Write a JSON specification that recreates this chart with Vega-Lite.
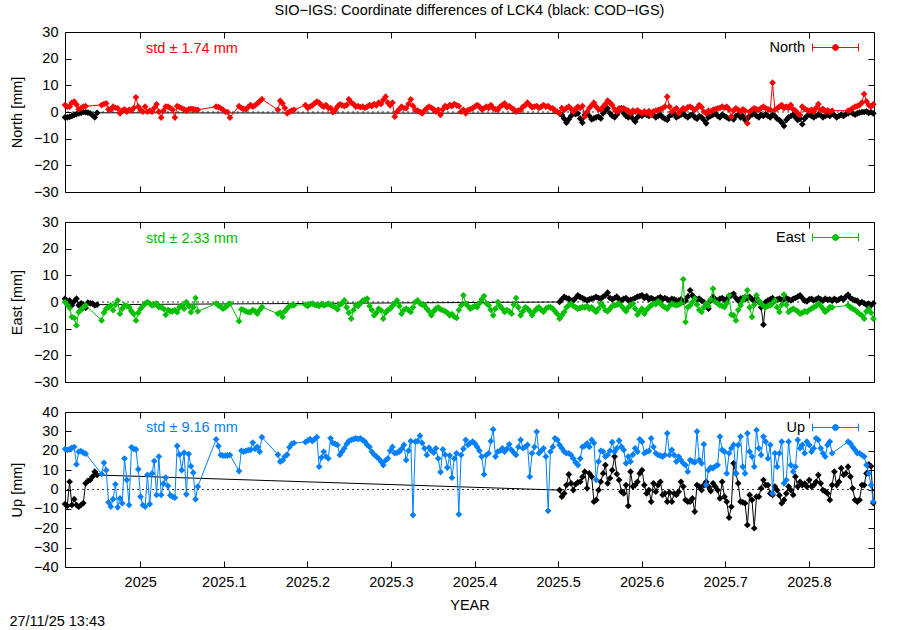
{
"$schema":"https://vega.github.io/schema/vega-lite/v6.json",
"padding":{"left":8,"top":3,"right":0,"bottom":2},
"bounds":"flush",
"spacing":30,
"resolve":{"scale":{"color":"independent"},"legend":{"color":"independent"}},
"title":{"text":"SIO−IGS: Coordinate differences of LCK4 (black: COD−IGS)","fontSize":14.5,"fontWeight":"normal","anchor":"middle","frame":"group","offset":5,"color":"black","font":"Liberation Sans"},
"config":{
"font":"Liberation Sans",
"view":{"stroke":"black","strokeWidth":1},
"axis":{"domain":false,"grid":false,"tickColor":"black","tickSize":-6,"tickWidth":1,"labelColor":"black","labelFontSize":14.5,"labelPadding":13,"titleFontSize":14.5,"titleFontWeight":"normal","titleColor":"black","labelFont":"Liberation Sans","titleFont":"Liberation Sans","titlePadding":9}
},
"datasets":{
"sio":[
{"t":2024.91,"n":2.6,"e":0,"u":20.9},{"t":2024.9127,"n":2.0,"e":-1,"u":20.5},{"t":2024.9155,"n":2.0,"e":-2.25,"u":20.7},{"t":2024.9182,"n":3.5,"e":-5.6,"u":21.5},{"t":2024.921,"n":3.9,"e":-6,"u":21.9},{"t":2024.9237,"n":2.8,"e":-8.8,"u":13},{"t":2024.9264,"n":1.0,"e":-3.8,"u":19.5},{"t":2024.9292,"n":1.5,"e":-3,"u":19.8},{"t":2024.9319,"n":2.0,"e":-2,"u":19},{"t":2024.9347,"n":2.2,"e":-1.25,"u":18.5},
{"t":2024.9538,"n":2.6,"e":-6.9,"u":8.0},{"t":2024.9566,"n":3.0,"e":-4.0,"u":13.8},{"t":2024.9593,"n":3.2,"e":-2.5,"u":10.0},{"t":2024.9621,"n":1.0,"e":-2.0,"u":-6.6},{"t":2024.9648,"n":0.8,"e":-1.3,"u":-8.8},{"t":2024.9675,"n":2.0,"e":-3.1,"u":-5.0},{"t":2024.9703,"n":1.6,"e":-1.0,"u":2.7},{"t":2024.973,"n":1.4,"e":0.6,"u":-9.2},{"t":2024.9758,"n":-0.5,"e":-4.4,"u":-4.6},{"t":2024.9785,"n":0.5,"e":-2.5,"u":-7.1},
{"t":2024.9812,"n":1.0,"e":-1.3,"u":16.0},{"t":2024.984,"n":0.1,"e":-1.5,"u":5.0},{"t":2024.9867,"n":0.8,"e":-1.9,"u":-8.0},{"t":2024.9895,"n":0.6,"e":-3.5,"u":21.8},{"t":2024.9922,"n":1.5,"e":-4.5,"u":21.0},{"t":2024.9949,"n":5.5,"e":-6.9,"u":20.7},{"t":2024.9977,"n":2.0,"e":-4.0,"u":10.4},{"t":2025.0004,"n":0.8,"e":-2.5,"u":-3.7},{"t":2025.0032,"n":0.1,"e":-1.5,"u":-8.0},{"t":2025.0059,"n":2.0,"e":-0.6,"u":-8.8},
{"t":2025.0086,"n":0.1,"e":0.0,"u":7.5},{"t":2025.0114,"n":0.5,"e":-0.6,"u":-7.5},{"t":2025.0141,"n":0.1,"e":-1.3,"u":8.3},{"t":2025.0168,"n":1.5,"e":-1.0,"u":14.7},{"t":2025.0196,"n":2.9,"e":-0.6,"u":-2.8},{"t":2025.0223,"n":0.1,"e":-1.9,"u":17.0},{"t":2025.0251,"n":-2.1,"e":-2.0,"u":-2.8},{"t":2025.0278,"n":0.5,"e":-2.5,"u":3.0},{"t":2025.0305,"n":2.0,"e":-4.8,"u":6.1},{"t":2025.0333,"n":2.0,"e":-3.0,"u":1.8},
{"t":2025.036,"n":1.5,"e":-3.5,"u":-3.0},{"t":2025.0388,"n":0.8,"e":-3.5,"u":-3.7},{"t":2025.0415,"n":-2.1,"e":-3.0,"u":-4.2},{"t":2025.0442,"n":2.2,"e":-3.8,"u":22.5},{"t":2025.047,"n":1.8,"e":-2.0,"u":18.0},{"t":2025.0497,"n":1.4,"e":-1.3,"u":10.0},{"t":2025.0525,"n":1.0,"e":-2.5,"u":19.0},{"t":2025.0552,"n":0.4,"e":0.0,"u":-2.5},{"t":2025.0579,"n":1.0,"e":-1.5,"u":18.3},{"t":2025.0607,"n":1.2,"e":-3.8,"u":12.0},
{"t":2025.0634,"n":1.1,"e":-2.0,"u":8.7},{"t":2025.0662,"n":0.8,"e":1.5,"u":-5.0},{"t":2025.0689,"n":0.8,"e":-3.5,"u":1.5},
{"t":2025.0908,"n":2.0,"e":-0.6,"u":25.9},{"t":2025.0936,"n":1.8,"e":-1.3,"u":22.4},{"t":2025.0963,"n":1.4,"e":-1.8,"u":17.8},{"t":2025.099,"n":0.8,"e":-2.5,"u":17.5},{"t":2025.1018,"n":0.1,"e":-2.0,"u":17.5},{"t":2025.1045,"n":0.0,"e":-1.2,"u":17.6},{"t":2025.1073,"n":-2.1,"e":-0.6,"u":17.8},
{"t":2025.1182,"n":2.2,"e":-7.2,"u":9.5},{"t":2025.121,"n":1.5,"e":-2.8,"u":20.0},{"t":2025.1237,"n":1.2,"e":-3.0,"u":19.5},{"t":2025.1264,"n":1.0,"e":-3.5,"u":20.0},{"t":2025.1292,"n":1.8,"e":-3.8,"u":20.3},{"t":2025.1319,"n":2.6,"e":-3.8,"u":20.4},{"t":2025.1347,"n":2.0,"e":-3.0,"u":24.2},{"t":2025.1374,"n":2.5,"e":-3.5,"u":21.0},{"t":2025.1401,"n":3.2,"e":-4.4,"u":22.0},{"t":2025.1429,"n":4.0,"e":-3.0,"u":19.5},{"t":2025.1456,"n":4.8,"e":-1.9,"u":27.0},
{"t":2025.1648,"n":0.8,"e":-4.4,"u":18.0},{"t":2025.1675,"n":4.2,"e":-4.0,"u":14.4},{"t":2025.1703,"n":3.2,"e":-5.6,"u":15.0},{"t":2025.173,"n":1.5,"e":-3.5,"u":17.0},{"t":2025.1758,"n":-0.5,"e":-2.5,"u":18.0},{"t":2025.1785,"n":0.1,"e":-1.5,"u":21.8},{"t":2025.1812,"n":0.5,"e":-1.3,"u":23.5},{"t":2025.184,"n":0.8,"e":-1.2,"u":24.0},
{"t":2025.1977,"n":2.6,"e":-1.0,"u":24.5},{"t":2025.2004,"n":1.5,"e":-1.5,"u":25.2},{"t":2025.2032,"n":2.0,"e":-0.8,"u":26.0},{"t":2025.2059,"n":2.5,"e":-0.6,"u":25.0},{"t":2025.2086,"n":3.2,"e":-1.0,"u":26.0},{"t":2025.2114,"n":3.9,"e":-1.25,"u":27.0},{"t":2025.2141,"n":3.5,"e":-1.5,"u":11.8},{"t":2025.2168,"n":2.5,"e":-0.8,"u":16.5},{"t":2025.2196,"n":2.0,"e":-1.25,"u":19.5},{"t":2025.2223,"n":2.6,"e":-1.0,"u":17.0},
{"t":2025.2251,"n":1.5,"e":-0.6,"u":16.0},{"t":2025.2278,"n":1.5,"e":-1.0,"u":26.4},{"t":2025.2305,"n":-0.1,"e":-1.5,"u":24.0},{"t":2025.2333,"n":0.75,"e":-2.0,"u":23.5},{"t":2025.236,"n":2.0,"e":-2.75,"u":23.0},
{"t":2025.2388,"n":2.9,"e":-1.0,"u":17.8},{"t":2025.2415,"n":2.6,"e":-0.5,"u":19.5},{"t":2025.2442,"n":2.2,"e":0.6,"u":21.3},{"t":2025.247,"n":2.6,"e":-2.0,"u":23.5},{"t":2025.2497,"n":4.75,"e":-4.0,"u":25},{"t":2025.2525,"n":3.5,"e":-6.25,"u":25.6},{"t":2025.2552,"n":3.0,"e":-3.0,"u":26},{"t":2025.2579,"n":2.0,"e":-1.25,"u":26.4},{"t":2025.2607,"n":2.2,"e":-1.5,"u":26},{"t":2025.2634,"n":1.8,"e":-0.5,"u":26.4},
{"t":2025.2662,"n":2.0,"e":0.5,"u":25.5},{"t":2025.2689,"n":1.5,"e":0.8,"u":24.7},{"t":2025.2716,"n":2.0,"e":1.25,"u":23},{"t":2025.2744,"n":2.6,"e":-1.5,"u":22},{"t":2025.2771,"n":2.2,"e":-3.0,"u":19.5},{"t":2025.2799,"n":3.0,"e":-5.0,"u":18},{"t":2025.2826,"n":2.5,"e":-4.0,"u":17},{"t":2025.2853,"n":3.5,"e":-2.5,"u":16},{"t":2025.2881,"n":3.0,"e":-3.1,"u":14.5},{"t":2025.2908,"n":4.5,"e":-6.25,"u":12.6},
{"t":2025.2936,"n":5.75,"e":-4.0,"u":15},{"t":2025.2963,"n":3.5,"e":-3.0,"u":16},{"t":2025.299,"n":2.5,"e":-2.5,"u":20},{"t":2025.3018,"n":3.5,"e":-1.5,"u":22},{"t":2025.3045,"n":-1.75,"e":-0.5,"u":18.7},{"t":2025.3073,"n":0.1,"e":0.6,"u":19},{"t":2025.31,"n":1.0,"e":-1.5,"u":19.5},{"t":2025.3127,"n":2.0,"e":-4.4,"u":21},{"t":2025.3155,"n":1.5,"e":-3.0,"u":23},{"t":2025.3182,"n":1.4,"e":-2.5,"u":15.2},
{"t":2025.321,"n":3.0,"e":-3.0,"u":20},{"t":2025.3237,"n":4.75,"e":-3.75,"u":25},{"t":2025.3264,"n":2.25,"e":-2.0,"u":-13.2},{"t":2025.3292,"n":0.75,"e":0.0,"u":24.7},{"t":2025.3319,"n":0.5,"e":0.6,"u":25},{"t":2025.3347,"n":0.1,"e":-0.5,"u":27.8},{"t":2025.3374,"n":-0.5,"e":-1.0,"u":24},{"t":2025.3401,"n":0.5,"e":-1.25,"u":21.3},{"t":2025.3429,"n":1.4,"e":-2.5,"u":17.8},{"t":2025.3456,"n":2.0,"e":-3.5,"u":21.6},
{"t":2025.3484,"n":1.6,"e":-5.0,"u":20},{"t":2025.3511,"n":1.0,"e":-3.5,"u":19},{"t":2025.3538,"n":0.1,"e":-2.5,"u":21.3},{"t":2025.3566,"n":0.8,"e":-2.0,"u":16},{"t":2025.3593,"n":-1.1,"e":-2.8,"u":9},{"t":2025.3621,"n":1.0,"e":-3.1,"u":20.7},{"t":2025.3648,"n":2.25,"e":-3.5,"u":18},{"t":2025.3675,"n":1.8,"e":-4.0,"u":11.3},{"t":2025.3703,"n":2.6,"e":-5.0,"u":17.5},{"t":2025.373,"n":2.2,"e":-4.5,"u":6.1},
{"t":2025.3758,"n":3.0,"e":-5.5,"u":16},{"t":2025.3785,"n":2.5,"e":-6.0,"u":18.7},{"t":2025.3812,"n":2.25,"e":-3.0,"u":-12.8},{"t":2025.384,"n":0.1,"e":-1.25,"u":17.8},{"t":2025.3867,"n":0.8,"e":2.5,"u":21},{"t":2025.3895,"n":-0.5,"e":-0.6,"u":25.6},{"t":2025.3922,"n":0.75,"e":-1.5,"u":23},{"t":2025.3949,"n":1.0,"e":-2.5,"u":24},{"t":2025.3977,"n":1.4,"e":-2.0,"u":24.7},{"t":2025.4004,"n":2.0,"e":-1.5,"u":23.8},
{"t":2025.4032,"n":2.6,"e":-1.9,"u":22},{"t":2025.4059,"n":2.0,"e":-0.5,"u":20},{"t":2025.4086,"n":1.0,"e":1.0,"u":17},{"t":2025.4114,"n":1.4,"e":2.25,"u":7.8},{"t":2025.4141,"n":2.0,"e":-0.5,"u":17.8},{"t":2025.4169,"n":1.5,"e":-1.25,"u":18.7},{"t":2025.4196,"n":2.6,"e":-3.0,"u":25},{"t":2025.4223,"n":1.4,"e":-5.0,"u":31},{"t":2025.4251,"n":1.0,"e":-2.5,"u":17},{"t":2025.4278,"n":0.75,"e":0.0,"u":19.5},
{"t":2025.4306,"n":2.0,"e":-1.5,"u":20},{"t":2025.4333,"n":2.6,"e":-2.5,"u":21.3},{"t":2025.436,"n":3.25,"e":-3.75,"u":19.5},{"t":2025.4388,"n":1.8,"e":-3.0,"u":21},{"t":2025.4415,"n":2.25,"e":-3.5,"u":23.3},{"t":2025.4443,"n":1.4,"e":-4.4,"u":20.4},{"t":2025.447,"n":1.0,"e":-1.0,"u":19},{"t":2025.4497,"n":0.1,"e":1.5,"u":17.8},{"t":2025.4525,"n":0.6,"e":-2.0,"u":22},{"t":2025.4552,"n":0.75,"e":-5.0,"u":25.6},
{"t":2025.458,"n":2.0,"e":-3.5,"u":21.3},{"t":2025.4607,"n":2.5,"e":-2.0,"u":22},{"t":2025.4634,"n":3.5,"e":-2.5,"u":23},{"t":2025.4662,"n":2.6,"e":-3.5,"u":6.6},{"t":2025.4689,"n":1.8,"e":-5.0,"u":18.7},{"t":2025.4717,"n":2.0,"e":-3.5,"u":22},{"t":2025.4744,"n":2.25,"e":-2.5,"u":29.8},{"t":2025.4771,"n":1.5,"e":-2.0,"u":18.7},{"t":2025.4799,"n":2.0,"e":-3.0,"u":20},{"t":2025.4826,"n":2.6,"e":-3.75,"u":21.3},
{"t":2025.4854,"n":2.0,"e":-2.5,"u":17},{"t":2025.4881,"n":2.25,"e":-2.0,"u":-11},{"t":2025.4908,"n":1.5,"e":-1.9,"u":19.5},{"t":2025.4936,"n":1.4,"e":-2.5,"u":22},{"t":2025.4963,"n":0.6,"e":-3.5,"u":26.4},{"t":2025.4991,"n":0.1,"e":-4.5,"u":25.6},{"t":2025.5018,"n":-0.5,"e":-6.25,"u":23},{"t":2025.5045,"n":1.5,"e":-5.0,"u":21.3},{"t":2025.5073,"n":0.75,"e":-3.75,"u":19.5},{"t":2025.51,"n":1.5,"e":-2.0,"u":18.7},
{"t":2025.5128,"n":2.0,"e":-1.2,"u":18.7},{"t":2025.5155,"n":1.2,"e":-0.6,"u":17.8},{"t":2025.5182,"n":0.1,"e":-1.5,"u":16},{"t":2025.521,"n":1.2,"e":-2.0,"u":14},{"t":2025.5237,"n":2.0,"e":-2.5,"u":12.6},{"t":2025.5265,"n":1.5,"e":-2.2,"u":16},{"t":2025.5292,"n":2.25,"e":-1.9,"u":22},{"t":2025.5319,"n":-1.75,"e":-2.0,"u":22.5},{"t":2025.5347,"n":0.1,"e":-1.5,"u":23.8},{"t":2025.5374,"n":1.5,"e":-2.5,"u":22},
{"t":2025.5402,"n":2.5,"e":-2.0,"u":25.6},{"t":2025.5429,"n":3.5,"e":-3.0,"u":24},{"t":2025.5456,"n":2.0,"e":-3.75,"u":5},{"t":2025.5484,"n":1.0,"e":-2.5,"u":14.4},{"t":2025.5511,"n":0.75,"e":-0.6,"u":20},{"t":2025.5539,"n":2.0,"e":-1.5,"u":19.5},{"t":2025.5566,"n":3.0,"e":-3.1,"u":17},{"t":2025.5593,"n":4.25,"e":-3.5,"u":17.8},{"t":2025.5621,"n":3.5,"e":-2.5,"u":20},{"t":2025.5648,"n":2.6,"e":-1.5,"u":24.4},
{"t":2025.5676,"n":1.0,"e":-1.25,"u":19.5},{"t":2025.5703,"n":0.1,"e":-1.0,"u":21.3},{"t":2025.573,"n":1.4,"e":-0.6,"u":25.2},{"t":2025.5758,"n":1.0,"e":-1.5,"u":22.1},{"t":2025.5785,"n":1.4,"e":-2.5,"u":20.4},{"t":2025.5813,"n":0.8,"e":-3.5,"u":13.5},{"t":2025.584,"n":0.5,"e":-2.0,"u":17},{"t":2025.5867,"n":-0.5,"e":-1.25,"u":14.4},{"t":2025.5895,"n":0.5,"e":-0.6,"u":18},{"t":2025.5922,"n":0.1,"e":-2.5,"u":21.3},
{"t":2025.595,"n":0.6,"e":-4.75,"u":19.5},{"t":2025.5977,"n":0.1,"e":-3.5,"u":25.9},{"t":2025.6004,"n":-0.5,"e":-2.5,"u":24.7},{"t":2025.6032,"n":0.2,"e":-4.4,"u":18.7},{"t":2025.6059,"n":-0.5,"e":-3.0,"u":19.5},{"t":2025.6087,"n":0.3,"e":-2.0,"u":19.9},{"t":2025.6114,"n":-1.1,"e":-1.25,"u":26.4},{"t":2025.6141,"n":0.2,"e":-0.5,"u":22},{"t":2025.6169,"n":0.5,"e":-0.8,"u":18.7},{"t":2025.6196,"n":0.75,"e":0.25,"u":17.8},
{"t":2025.6224,"n":1.0,"e":-0.5,"u":17.5},{"t":2025.6251,"n":1.4,"e":-1.5,"u":17},{"t":2025.6278,"n":2.0,"e":-2.0,"u":17.8},{"t":2025.6306,"n":5.75,"e":-2.5,"u":29},{"t":2025.6333,"n":2.0,"e":-1.5,"u":17.8},{"t":2025.6361,"n":0.1,"e":-0.6,"u":20.4},{"t":2025.6388,"n":0.8,"e":-1.0,"u":17.8},{"t":2025.6415,"n":1.4,"e":-1.25,"u":14.4},{"t":2025.6443,"n":-0.5,"e":-1.0,"u":17},{"t":2025.647,"n":0.5,"e":-0.5,"u":15.2},
{"t":2025.6498,"n":1.4,"e":8.5,"u":13.5},{"t":2025.6525,"n":1.0,"e":-7.5,"u":12.6},{"t":2025.6552,"n":1.75,"e":-2.0,"u":9.2},{"t":2025.658,"n":2.0,"e":-1.25,"u":15.2},{"t":2025.6607,"n":1.5,"e":0.0,"u":14.4},{"t":2025.6635,"n":0.75,"e":1.25,"u":14},{"t":2025.6662,"n":1.5,"e":-1.0,"u":30},{"t":2025.6689,"n":2.6,"e":-3.0,"u":15.2},{"t":2025.6717,"n":1.8,"e":-3.75,"u":13.5},{"t":2025.6744,"n":0.1,"e":-2.0,"u":23.3},
{"t":2025.6772,"n":-0.5,"e":-0.6,"u":2.3},{"t":2025.6799,"n":0.5,"e":-1.5,"u":10},{"t":2025.6826,"n":0.1,"e":1.0,"u":11.3},{"t":2025.6854,"n":0.8,"e":5.0,"u":11},{"t":2025.6881,"n":1.0,"e":0.0,"u":12},{"t":2025.6909,"n":1.4,"e":-0.5,"u":12.6},{"t":2025.6936,"n":1.5,"e":-1.25,"u":27.3},{"t":2025.6963,"n":2.0,"e":-1.5,"u":20.4},{"t":2025.6991,"n":1.5,"e":-1.9,"u":19.5},{"t":2025.7018,"n":2.0,"e":-0.5,"u":8.3},
{"t":2025.7046,"n":1.0,"e":2.5,"u":18.7},{"t":2025.7073,"n":-1.75,"e":-4.75,"u":21.3},{"t":2025.71,"n":0.5,"e":-5.0,"u":23},{"t":2025.7128,"n":1.4,"e":-6.9,"u":8.3},{"t":2025.7155,"n":0.8,"e":-3.0,"u":23},{"t":2025.7183,"n":0.1,"e":-1.25,"u":27.3},{"t":2025.721,"n":1.0,"e":0.5,"u":11.8},{"t":2025.7237,"n":0.5,"e":2.0,"u":8.3},{"t":2025.7265,"n":-4.25,"e":4.4,"u":29},{"t":2025.7292,"n":0.1,"e":-2.0,"u":19.5},
{"t":2025.732,"n":0.8,"e":-5.6,"u":17},{"t":2025.7347,"n":1.4,"e":-1.0,"u":11.8},{"t":2025.7374,"n":1.0,"e":2.5,"u":30.7},{"t":2025.7402,"n":0.75,"e":0.5,"u":21.3},{"t":2025.7429,"n":1.5,"e":-0.6,"u":17.8},{"t":2025.7457,"n":2.0,"e":-1.5,"u":27.3},{"t":2025.7484,"n":1.4,"e":-1.9,"u":24.7},{"t":2025.7511,"n":1.0,"e":-1.5,"u":16},{"t":2025.7539,"n":0.8,"e":-1.25,"u":23},{"t":2025.7566,"n":11.0,"e":-0.5,"u":-2},
{"t":2025.7594,"n":0.75,"e":0.6,"u":18.7},{"t":2025.7621,"n":1.4,"e":-2.0,"u":11.8},{"t":2025.7648,"n":2.0,"e":-3.75,"u":18.7},{"t":2025.7676,"n":2.6,"e":-1.0,"u":24.7},{"t":2025.7703,"n":1.4,"e":2.75,"u":3.2},{"t":2025.7731,"n":2.0,"e":-1.0,"u":4.9},{"t":2025.7758,"n":1.5,"e":-3.75,"u":24.7},{"t":2025.7785,"n":2.6,"e":-3.0,"u":12.6},{"t":2025.7813,"n":1.0,"e":-2.5,"u":9.2},{"t":2025.784,"n":0.5,"e":-3.0,"u":11.8},
{"t":2025.7868,"n":-0.5,"e":-3.5,"u":25.6},{"t":2025.7895,"n":-1.1,"e":-4.4,"u":21.3},{"t":2025.7922,"n":2.0,"e":-4.0,"u":23},{"t":2025.795,"n":1.2,"e":-3.5,"u":18.7},{"t":2025.7977,"n":0.75,"e":-3.75,"u":24.7},{"t":2025.8005,"n":0.4,"e":-3.0,"u":23},{"t":2025.8032,"n":0.8,"e":-2.5,"u":19.5},{"t":2025.8059,"n":0.1,"e":-2.0,"u":21.3},{"t":2025.8087,"n":1.5,"e":-1.5,"u":26.4},{"t":2025.8114,"n":3.0,"e":-0.6,"u":25.6},
{"t":2025.8142,"n":0.75,"e":-1.5,"u":21.3},{"t":2025.8169,"n":1.2,"e":-2.5,"u":18.7},{"t":2025.8196,"n":0.1,"e":-3.75,"u":17},{"t":2025.8224,"n":0.6,"e":-3.0,"u":23},{"t":2025.8251,"n":0.1,"e":-1.9,"u":24.7},{"t":2025.8279,"n":0.5,"e":-2.0,"u":18.7},
{"t":2025.847,"n":0.5,"e":-1.25,"u":24.7},{"t":2025.8498,"n":0.75,"e":-2.0,"u":23.8},{"t":2025.8525,"n":1.4,"e":-2.5,"u":22},{"t":2025.8553,"n":2.0,"e":-3.0,"u":20.4},{"t":2025.858,"n":2.2,"e":-3.75,"u":18.7},{"t":2025.8607,"n":2.6,"e":-4.5,"u":18.7},{"t":2025.8635,"n":3.5,"e":-5.0,"u":17.8},{"t":2025.8662,"n":6.75,"e":-6.25,"u":17},{"t":2025.869,"n":4.0,"e":-3.5,"u":12.6},{"t":2025.8717,"n":2.6,"e":-2.5,"u":8.3},
{"t":2025.8744,"n":2.0,"e":-4.0,"u":2.3},{"t":2025.8772,"n":2.9,"e":-6.25,"u":-6.3}
],
"cod":[
{"t":2024.91,"n":-2,"e":1.25,"u":-7.5},{"t":2024.9127,"n":-2,"e":-0.6,"u":-8.5},{"t":2024.9155,"n":-1.8,"e":0.5,"u":4},{"t":2024.9182,"n":-1.5,"e":-1.25,"u":-8},{"t":2024.921,"n":-1.1,"e":0.2,"u":-5},{"t":2024.9237,"n":-0.8,"e":1.25,"u":-8},{"t":2024.9264,"n":-0.5,"e":-1.25,"u":-8.9},{"t":2024.9292,"n":-0.3,"e":-0.5,"u":-8},{"t":2024.9319,"n":0,"e":-1,"u":-7},{"t":2024.9347,"n":-0.1,"e":-2.25,"u":3.2},
{"t":2024.9374,"n":-0.2,"e":-0.25,"u":4.4},{"t":2024.9401,"n":-0.5,"e":-0.5,"u":4.9},{"t":2024.9429,"n":-1.2,"e":-0.6,"u":6.6},{"t":2024.9456,"n":-2,"e":-1.25,"u":9.2},{"t":2024.9484,"n":-0.3,"e":-1,"u":7.5},
{"t":2025.5018,"n":-0.5,"e":0.0,"u":-0.3},{"t":2025.5045,"n":-1.1,"e":1.0,"u":-3.7},{"t":2025.5073,"n":-2.5,"e":1.9,"u":-2},{"t":2025.51,"n":-4.0,"e":1.5,"u":2.3},{"t":2025.5128,"n":-2.75,"e":1.25,"u":7.8},{"t":2025.5155,"n":-1.5,"e":0.5,"u":3.2},{"t":2025.5182,"n":-0.25,"e":0.6,"u":-0.3},{"t":2025.521,"n":-0.8,"e":1.5,"u":2.7},{"t":2025.5237,"n":-0.5,"e":2.5,"u":3.7},{"t":2025.5265,"n":-2.5,"e":1.8,"u":4.0},
{"t":2025.5292,"n":-4.0,"e":1.5,"u":6.5},{"t":2025.5319,"n":-1.1,"e":1.0,"u":9.2},{"t":2025.5347,"n":-0.5,"e":0.6,"u":0.6},{"t":2025.5374,"n":-1.5,"e":1.0,"u":8.3},{"t":2025.5402,"n":-2.75,"e":1.25,"u":6.6},{"t":2025.5429,"n":-2.4,"e":1.5,"u":-6.3},{"t":2025.5456,"n":-2.0,"e":1.9,"u":-5.4},{"t":2025.5484,"n":-1.75,"e":1.5,"u":-0.3},{"t":2025.5511,"n":-2.4,"e":1.25,"u":4.0},{"t":2025.5539,"n":-0.5,"e":2.0,"u":8.3},
{"t":2025.5566,"n":0.5,"e":2.5,"u":12.6},{"t":2025.5593,"n":1.4,"e":3.5,"u":3.2},{"t":2025.5621,"n":-0.5,"e":1.5,"u":5.8},{"t":2025.5648,"n":-1.5,"e":1.0,"u":10},{"t":2025.5676,"n":-2.0,"e":1.5,"u":17},{"t":2025.5703,"n":-1.0,"e":2.0,"u":8},{"t":2025.573,"n":0.5,"e":1.0,"u":4.9},{"t":2025.5758,"n":1.5,"e":0.6,"u":-1.1},{"t":2025.5785,"n":-0.5,"e":1.2,"u":-2},{"t":2025.5813,"n":-1.5,"e":1.5,"u":2.3},
{"t":2025.584,"n":-2.0,"e":0.6,"u":-8.5},{"t":2025.5867,"n":-1.0,"e":0.8,"u":9.2},{"t":2025.5895,"n":-2.5,"e":1.0,"u":1.5},{"t":2025.5922,"n":-3.6,"e":1.5,"u":2.3},{"t":2025.595,"n":-2.0,"e":2.0,"u":4},{"t":2025.5977,"n":-1.0,"e":2.2,"u":8.3},{"t":2025.6004,"n":-1.5,"e":2.5,"u":10},{"t":2025.6032,"n":-0.5,"e":1.5,"u":2.3},{"t":2025.6059,"n":-1.0,"e":2.2,"u":-2},{"t":2025.6087,"n":-1.5,"e":1.0,"u":-0.3},
{"t":2025.6114,"n":-0.5,"e":1.5,"u":-6.3},{"t":2025.6141,"n":-1.2,"e":1.0,"u":3.2},{"t":2025.6169,"n":-2.0,"e":0.8,"u":-1.1},{"t":2025.6196,"n":-1.5,"e":1.5,"u":2.3},{"t":2025.6224,"n":-1.0,"e":1.8,"u":4},{"t":2025.6251,"n":-2.0,"e":1.2,"u":-2.8},{"t":2025.6278,"n":-2.5,"e":1.5,"u":-2},{"t":2025.6306,"n":-3.0,"e":1.0,"u":-6.3},{"t":2025.6333,"n":-1.5,"e":0.5,"u":-1.5},{"t":2025.6361,"n":-1.0,"e":1.2,"u":-6.3},
{"t":2025.6388,"n":-0.5,"e":1.0,"u":-2},{"t":2025.6415,"n":-2.0,"e":0.6,"u":-2.8},{"t":2025.6443,"n":-1.5,"e":0.5,"u":-1.1},{"t":2025.647,"n":-1.0,"e":1.0,"u":4},{"t":2025.6498,"n":-0.5,"e":0.0,"u":1.5},{"t":2025.6525,"n":-1.5,"e":0.5,"u":-5.4},{"t":2025.6552,"n":-2.0,"e":2.0,"u":-6.3},{"t":2025.658,"n":-1.2,"e":4.4,"u":-6.3},{"t":2025.6607,"n":-1.0,"e":2.5,"u":-4.6},{"t":2025.6635,"n":-2.0,"e":1.5,"u":-11.4},
{"t":2025.6662,"n":-2.5,"e":1.0,"u":2.3},{"t":2025.6689,"n":-1.5,"e":1.25,"u":1.5},{"t":2025.6717,"n":-2.0,"e":0.5,"u":-0.3},{"t":2025.6744,"n":-3.0,"e":0.0,"u":2.3},{"t":2025.6772,"n":-4.25,"e":-1.0,"u":4},{"t":2025.6799,"n":-2.0,"e":-2.5,"u":1.5},{"t":2025.6826,"n":-1.5,"e":0.5,"u":-0.8},{"t":2025.6854,"n":-1.0,"e":1.9,"u":3.2},{"t":2025.6881,"n":-0.5,"e":1.0,"u":1.5},{"t":2025.6909,"n":-1.5,"e":0.5,"u":-0.3},
{"t":2025.6936,"n":-2.0,"e":1.2,"u":-4.6},{"t":2025.6963,"n":-1.0,"e":1.5,"u":4},{"t":2025.6991,"n":-1.5,"e":0.8,"u":-3.7},{"t":2025.7018,"n":-2.0,"e":1.0,"u":-6.3},{"t":2025.7046,"n":-2.5,"e":2.0,"u":-14.5},{"t":2025.7073,"n":-2.0,"e":2.5,"u":-8.9},{"t":2025.71,"n":-2.75,"e":3.1,"u":13.5},{"t":2025.7128,"n":-1.5,"e":1.5,"u":8.3},{"t":2025.7155,"n":-1.0,"e":0.5,"u":3.2},{"t":2025.7183,"n":-2.0,"e":1.25,"u":-6.3},
{"t":2025.721,"n":-1.5,"e":1.5,"u":-6.6},{"t":2025.7237,"n":-3.0,"e":1.0,"u":-7.1},{"t":2025.7265,"n":-2.5,"e":1.5,"u":-18.3},{"t":2025.7292,"n":-1.5,"e":1.9,"u":-2.8},{"t":2025.732,"n":-1.0,"e":1.0,"u":-5.4},{"t":2025.7347,"n":-0.5,"e":0.5,"u":-20},{"t":2025.7374,"n":-1.5,"e":1.5,"u":-3.7},{"t":2025.7402,"n":-2.0,"e":0.0,"u":-3.7},{"t":2025.7429,"n":-1.0,"e":-2.0,"u":0.6},{"t":2025.7457,"n":-1.5,"e":-8.5,"u":4.9},
{"t":2025.7484,"n":-0.8,"e":0.0,"u":2.3},{"t":2025.7511,"n":-1.5,"e":0.6,"u":2.3},{"t":2025.7539,"n":-2.0,"e":1.0,"u":-2},{"t":2025.7566,"n":-1.0,"e":1.5,"u":-2.8},{"t":2025.7594,"n":-1.5,"e":0.6,"u":1.5},{"t":2025.7621,"n":-2.5,"e":1.0,"u":-0.3},{"t":2025.7648,"n":-3.0,"e":1.25,"u":-3},{"t":2025.7676,"n":-4.0,"e":0.8,"u":-7.1},{"t":2025.7703,"n":-5.25,"e":1.0,"u":-5.4},{"t":2025.7731,"n":-3.0,"e":1.5,"u":-2},
{"t":2025.7758,"n":-2.0,"e":1.0,"u":1.5},{"t":2025.7785,"n":-1.5,"e":0.6,"u":-0.3},{"t":2025.7813,"n":-1.0,"e":1.2,"u":-2.8},{"t":2025.784,"n":-2.0,"e":1.5,"u":6.6},{"t":2025.7868,"n":-3.0,"e":2.0,"u":1.5},{"t":2025.7895,"n":-2.5,"e":2.5,"u":4},{"t":2025.7922,"n":-4.6,"e":1.5,"u":2.3},{"t":2025.795,"n":-2.5,"e":0.5,"u":3},{"t":2025.7977,"n":-1.5,"e":0.25,"u":1.5},{"t":2025.8005,"n":-1.0,"e":1.0,"u":4.9},
{"t":2025.8032,"n":-1.5,"e":1.2,"u":1.5},{"t":2025.8059,"n":-2.0,"e":0.6,"u":2.3},{"t":2025.8087,"n":-1.5,"e":1.0,"u":4},{"t":2025.8114,"n":-1.0,"e":1.5,"u":7.5},{"t":2025.8142,"n":-1.2,"e":1.0,"u":3.2},{"t":2025.8169,"n":-2.0,"e":0.5,"u":-0.3},{"t":2025.8196,"n":-1.5,"e":1.25,"u":-1},{"t":2025.8224,"n":-1.0,"e":0.8,"u":-2},{"t":2025.8251,"n":-1.5,"e":1.0,"u":-5.4},{"t":2025.8279,"n":-0.8,"e":0.5,"u":2.3},
{"t":2025.8306,"n":-1.2,"e":1.2,"u":9.2},{"t":2025.8333,"n":-2.0,"e":0.6,"u":2.3},{"t":2025.8361,"n":-1.5,"e":1.0,"u":4},{"t":2025.8388,"n":-1.0,"e":1.5,"u":11},{"t":2025.8416,"n":-1.5,"e":1.0,"u":7.5},{"t":2025.8443,"n":-0.8,"e":2.0,"u":8.3},{"t":2025.847,"n":-0.5,"e":2.75,"u":11.8},{"t":2025.8498,"n":0.1,"e":1.5,"u":6.6},{"t":2025.8525,"n":-0.5,"e":1.0,"u":0.6},{"t":2025.8553,"n":-1.0,"e":0.6,"u":-5.4},
{"t":2025.858,"n":-0.5,"e":0.5,"u":-6.3},{"t":2025.8607,"n":-0.2,"e":-0.5,"u":-5.4},{"t":2025.8635,"n":0.0,"e":0.0,"u":2.3},{"t":2025.8662,"n":0.0,"e":-0.5,"u":2.3},{"t":2025.869,"n":0.2,"e":-1.0,"u":8.3},{"t":2025.8717,"n":-0.3,"e":-0.6,"u":13},{"t":2025.8744,"n":-0.1,"e":-1.25,"u":12},{"t":2025.8772,"n":-0.5,"e":-0.5,"u":-7}
]
},
"vconcat":[
{
"width":809,"height":160,
"resolve":{"axis":{"x":"independent","y":"independent"}},
"layer":[
{"data":{"values":[{}]},"mark":{"type":"rule","stroke":"black","strokeWidth":0.8,"strokeDash":[2,3]},
"encoding":{"y":{"datum":0,"type":"quantitative","scale":{"domain":[-30,30],"nice":false},"axis":{"orient":"left","title":"North [mm]","values":[-30,-20,-10,0,10,20,30]}}}},
{"data":{"name":"cod"},"mark":{"type":"line","color":"black","strokeWidth":1},
"encoding":{"x":{"field":"t","type":"quantitative","scale":{"domain":[2024.91,2025.878],"nice":false,"zero":false},"axis":{"orient":"bottom","values":[2025,2025.1,2025.2,2025.3,2025.4,2025.5,2025.6,2025.7,2025.8],"labels":false,"title":null}},"y":{"field":"n","type":"quantitative","axis":null}}},
{"data":{"name":"cod"},"mark":{"type":"point","shape":"diamond","filled":true,"size":45,"color":"black","opacity":1},
"encoding":{"x":{"field":"t","type":"quantitative","axis":null},"y":{"field":"n","type":"quantitative","axis":null}}},
{"data":{"name":"sio"},"mark":{"type":"line","strokeWidth":1},
"encoding":{"x":{"field":"t","type":"quantitative","axis":{"orient":"top","values":[2025,2025.1,2025.2,2025.3,2025.4,2025.5,2025.6,2025.7,2025.8],"labels":false,"title":null}},"y":{"field":"n","type":"quantitative","axis":{"orient":"right","values":[-30,-20,-10,0,10,20,30],"labels":false,"title":null}},
"color":{"datum":"North","type":"nominal","scale":{"range":["#ff0000"]},"legend":{"orient":"none","legendX":747,"legendY":-8,"title":null,"symbolType":"M-1,0H1M-1,-0.17V0.17M1,-0.17V0.17M-0.13,0A0.13,0.13,0,1,0,0.13,0A0.13,0.13,0,1,0,-0.13,0Z","symbolSize":2116,"symbolStrokeWidth":1,"symbolFillColor":"#ff0000","symbolStrokeColor":"#ff0000","labelAlign":"right","labelOffset":-54,"labelFontSize":14.5,"labelColor":"black","labelFont":"Liberation Sans"}}}},
{"data":{"name":"sio"},"mark":{"type":"point","shape":"diamond","filled":true,"size":45,"opacity":1},
"encoding":{"x":{"field":"t","type":"quantitative","axis":null},"y":{"field":"n","type":"quantitative","axis":null},
"color":{"datum":"North","type":"nominal","legend":{"orient":"none","legendX":747,"legendY":-8,"title":null,"symbolType":"M-1,0H1M-1,-0.17V0.17M1,-0.17V0.17M-0.13,0A0.13,0.13,0,1,0,0.13,0A0.13,0.13,0,1,0,-0.13,0Z","symbolSize":2116,"symbolStrokeWidth":1,"symbolFillColor":"#ff0000","symbolStrokeColor":"#ff0000","labelAlign":"right","labelOffset":-54,"labelFontSize":14.5,"labelColor":"black","labelFont":"Liberation Sans"}}}},
{"data":{"values":[{}]},"mark":{"type":"text","text":"std ± 1.74 mm","align":"left","baseline":"middle","fontSize":14.5,"color":"#ff0000","font":"Liberation Sans"},
"encoding":{"x":{"datum":2025.007,"type":"quantitative","axis":null},"y":{"datum":23.5,"type":"quantitative","axis":null}}}
]
},
{
"width":809,"height":160,
"resolve":{"axis":{"x":"independent","y":"independent"}},
"layer":[
{"data":{"values":[{}]},"mark":{"type":"rule","stroke":"black","strokeWidth":0.8,"strokeDash":[2,3]},
"encoding":{"y":{"datum":0,"type":"quantitative","scale":{"domain":[-30,30],"nice":false},"axis":{"orient":"left","title":"East [mm]","values":[-30,-20,-10,0,10,20,30]}}}},
{"data":{"name":"cod"},"mark":{"type":"line","color":"black","strokeWidth":1},
"encoding":{"x":{"field":"t","type":"quantitative","scale":{"domain":[2024.91,2025.878],"nice":false,"zero":false},"axis":{"orient":"bottom","values":[2025,2025.1,2025.2,2025.3,2025.4,2025.5,2025.6,2025.7,2025.8],"labels":false,"title":null}},"y":{"field":"e","type":"quantitative","axis":null}}},
{"data":{"name":"cod"},"mark":{"type":"point","shape":"diamond","filled":true,"size":45,"color":"black","opacity":1},
"encoding":{"x":{"field":"t","type":"quantitative","axis":null},"y":{"field":"e","type":"quantitative","axis":null}}},
{"data":{"name":"sio"},"mark":{"type":"line","strokeWidth":1},
"encoding":{"x":{"field":"t","type":"quantitative","axis":{"orient":"top","values":[2025,2025.1,2025.2,2025.3,2025.4,2025.5,2025.6,2025.7,2025.8],"labels":false,"title":null}},"y":{"field":"e","type":"quantitative","axis":{"orient":"right","values":[-30,-20,-10,0,10,20,30],"labels":false,"title":null}},
"color":{"datum":"East","type":"nominal","scale":{"range":["#00c000"]},"legend":{"orient":"none","legendX":747,"legendY":-8,"title":null,"symbolType":"M-1,0H1M-1,-0.17V0.17M1,-0.17V0.17M-0.13,0A0.13,0.13,0,1,0,0.13,0A0.13,0.13,0,1,0,-0.13,0Z","symbolSize":2116,"symbolStrokeWidth":1,"symbolFillColor":"#00c000","symbolStrokeColor":"#00c000","labelAlign":"right","labelOffset":-54,"labelFontSize":14.5,"labelColor":"black","labelFont":"Liberation Sans"}}}},
{"data":{"name":"sio"},"mark":{"type":"point","shape":"diamond","filled":true,"size":45,"opacity":1},
"encoding":{"x":{"field":"t","type":"quantitative","axis":null},"y":{"field":"e","type":"quantitative","axis":null},
"color":{"datum":"East","type":"nominal","legend":{"orient":"none","legendX":747,"legendY":-8,"title":null,"symbolType":"M-1,0H1M-1,-0.17V0.17M1,-0.17V0.17M-0.13,0A0.13,0.13,0,1,0,0.13,0A0.13,0.13,0,1,0,-0.13,0Z","symbolSize":2116,"symbolStrokeWidth":1,"symbolFillColor":"#00c000","symbolStrokeColor":"#00c000","labelAlign":"right","labelOffset":-54,"labelFontSize":14.5,"labelColor":"black","labelFont":"Liberation Sans"}}}},
{"data":{"values":[{}]},"mark":{"type":"text","text":"std ± 2.33 mm","align":"left","baseline":"middle","fontSize":14.5,"color":"#00c000","font":"Liberation Sans"},
"encoding":{"x":{"datum":2025.007,"type":"quantitative","axis":null},"y":{"datum":23.6,"type":"quantitative","axis":null}}}
]
},
{
"width":809,"height":155,
"title":{"text":"27/11/25 13:43","orient":"bottom","anchor":"start","frame":"bounds","fontSize":14.5,"fontWeight":"normal","offset":3,"color":"black","font":"Liberation Sans"},
"resolve":{"axis":{"x":"independent","y":"independent"}},
"layer":[
{"data":{"values":[{}]},"mark":{"type":"rule","stroke":"black","strokeWidth":0.8,"strokeDash":[2,3]},
"encoding":{"y":{"datum":0,"type":"quantitative","scale":{"domain":[-40,40],"nice":false},"axis":{"orient":"left","title":"Up [mm]","values":[-40,-30,-20,-10,0,10,20,30,40]}}}},
{"data":{"name":"cod"},"mark":{"type":"line","color":"black","strokeWidth":1},
"encoding":{"x":{"field":"t","type":"quantitative","scale":{"domain":[2024.91,2025.878],"nice":false,"zero":false},"axis":{"orient":"bottom","values":[2025,2025.1,2025.2,2025.3,2025.4,2025.5,2025.6,2025.7,2025.8],"format":"~r","labelPadding":14,"title":"YEAR","titlePadding":10}},"y":{"field":"u","type":"quantitative","axis":null}}},
{"data":{"name":"cod"},"mark":{"type":"point","shape":"diamond","filled":true,"size":45,"color":"black","opacity":1},
"encoding":{"x":{"field":"t","type":"quantitative","axis":null},"y":{"field":"u","type":"quantitative","axis":null}}},
{"data":{"name":"sio"},"mark":{"type":"line","strokeWidth":1},
"encoding":{"x":{"field":"t","type":"quantitative","axis":{"orient":"top","values":[2025,2025.1,2025.2,2025.3,2025.4,2025.5,2025.6,2025.7,2025.8],"labels":false,"title":null}},"y":{"field":"u","type":"quantitative","axis":{"orient":"right","values":[-40,-30,-20,-10,0,10,20,30,40],"labels":false,"title":null}},
"color":{"datum":"Up","type":"nominal","scale":{"range":["#0080ff"]},"legend":{"orient":"none","legendX":747,"legendY":-8,"title":null,"symbolType":"M-1,0H1M-1,-0.17V0.17M1,-0.17V0.17M-0.13,0A0.13,0.13,0,1,0,0.13,0A0.13,0.13,0,1,0,-0.13,0Z","symbolSize":2116,"symbolStrokeWidth":1,"symbolFillColor":"#0080ff","symbolStrokeColor":"#0080ff","labelAlign":"right","labelOffset":-54,"labelFontSize":14.5,"labelColor":"black","labelFont":"Liberation Sans"}}}},
{"data":{"name":"sio"},"mark":{"type":"point","shape":"diamond","filled":true,"size":45,"opacity":1},
"encoding":{"x":{"field":"t","type":"quantitative","axis":null},"y":{"field":"u","type":"quantitative","axis":null},
"color":{"datum":"Up","type":"nominal","legend":{"orient":"none","legendX":747,"legendY":-8,"title":null,"symbolType":"M-1,0H1M-1,-0.17V0.17M1,-0.17V0.17M-0.13,0A0.13,0.13,0,1,0,0.13,0A0.13,0.13,0,1,0,-0.13,0Z","symbolSize":2116,"symbolStrokeWidth":1,"symbolFillColor":"#0080ff","symbolStrokeColor":"#0080ff","labelAlign":"right","labelOffset":-54,"labelFontSize":14.5,"labelColor":"black","labelFont":"Liberation Sans"}}}},
{"data":{"values":[{}]},"mark":{"type":"text","text":"std ± 9.16 mm","align":"left","baseline":"middle","fontSize":14.5,"color":"#0080ff","font":"Liberation Sans"},
"encoding":{"x":{"datum":2025.007,"type":"quantitative","axis":null},"y":{"datum":31.6,"type":"quantitative","axis":null}}}
]
}
]
}
